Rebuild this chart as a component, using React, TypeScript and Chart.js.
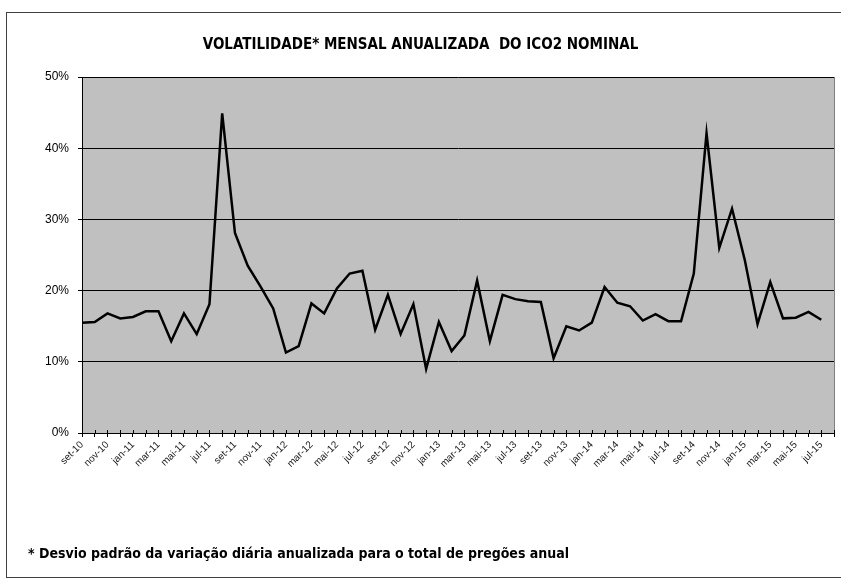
import React, { useEffect, useRef } from "react";
import { Chart, registerables } from "chart.js";

Chart.register(...registerables);

const TITLE = "VOLATILIDADE* MENSAL ANUALIZADA  DO ICO2 NOMINAL";
const FOOTNOTE = "* Desvio padrão da variação diária anualizada para o total de pregões anual";

const months = [
  "set-10", "out-10", "nov-10", "dez-10",
  "jan-11", "fev-11", "mar-11", "abr-11", "mai-11", "jun-11", "jul-11", "ago-11", "set-11", "out-11", "nov-11", "dez-11",
  "jan-12", "fev-12", "mar-12", "abr-12", "mai-12", "jun-12", "jul-12", "ago-12", "set-12", "out-12", "nov-12", "dez-12",
  "jan-13", "fev-13", "mar-13", "abr-13", "mai-13", "jun-13", "jul-13", "ago-13", "set-13", "out-13", "nov-13", "dez-13",
  "jan-14", "fev-14", "mar-14", "abr-14", "mai-14", "jun-14", "jul-14", "ago-14", "set-14", "out-14", "nov-14", "dez-14",
  "jan-15", "fev-15", "mar-15", "abr-15", "mai-15", "jun-15", "jul-15", "ago-15",
];

const volatility = [
  15.5, 15.6, 16.8, 16.1,
  16.3, 17.1, 17.1, 12.9, 16.8, 13.9, 18.1, 44.9, 28.1, 23.5, 20.6, 17.5,
  11.3, 12.2, 18.2, 16.8, 20.3, 22.4, 22.8, 14.5, 19.4, 13.9, 18.1, 9.0,
  15.6, 11.5, 13.7, 21.4, 12.9, 19.4, 18.8, 18.5, 18.4, 10.5, 15.0, 14.4,
  15.5, 20.5, 18.3, 17.8, 15.8, 16.7, 15.7, 15.7, 22.4, 42.1, 26.0, 31.5,
  24.3, 15.3, 21.2, 16.1, 16.2, 17.0, 15.9, null,
];

const yTicks = [0, 10, 20, 30, 40, 50];

const AXIS_FONT = "'Liberation Sans', Arial, sans-serif";
const NARROW_FONT = "'Liberation Sans Narrow', 'DejaVu Sans Condensed', 'Liberation Sans', Arial, sans-serif";

const plotBg = {
  id: "plotBg",
  beforeDraw(chart: any) {
    const { ctx, chartArea } = chart;
    ctx.save();
    ctx.fillStyle = "#c0c0c0";
    ctx.fillRect(chartArea.left, chartArea.top, chartArea.right - chartArea.left, chartArea.bottom - chartArea.top);
    ctx.restore();
  },
  afterDraw(chart: any) {
    const { ctx, chartArea } = chart;
    const xs = chart.scales.x;
    ctx.save();
    ctx.strokeStyle = "#808080";
    ctx.lineWidth = 1;
    ctx.beginPath();
    ctx.moveTo(Math.round(chartArea.right) + 0.5, chartArea.top);
    ctx.lineTo(Math.round(chartArea.right) + 0.5, chartArea.bottom);
    ctx.stroke();
    ctx.strokeStyle = "#000";
    ctx.beginPath();
    for (let i = 0; i < months.length; i++) {
      const x = Math.round(xs.getPixelForValue(i)) + 0.5;
      ctx.moveTo(x, chartArea.bottom - 3);
      ctx.lineTo(x, chartArea.bottom);
    }
    ctx.stroke();
    ctx.restore();
  },
};

export default function App() {
  const canvasRef = useRef<HTMLCanvasElement | null>(null);

  useEffect(() => {
    if (!canvasRef.current) return;
    const chart = new Chart(canvasRef.current, {
      type: "line",
      data: {
        labels: months,
        datasets: [
          {
            label: "Volatilidade",
            data: volatility,
            borderColor: "#000000",
            borderWidth: 2.5,
            pointRadius: 0,
            tension: 0,
            fill: false,
          },
        ],
      },
      plugins: [plotBg],
      options: {
        responsive: false,
        animation: false,
        devicePixelRatio: 1,
        layout: { padding: { left: 0, top: 77, right: 7, bottom: 86 } },
        plugins: {
          legend: { display: false },
          title: { display: false },
          tooltip: { enabled: false },
        },
        scales: {
          x: {
            type: "category",
            offset: false,
            grid: { drawOnChartArea: false, drawTicks: true, tickLength: 4, color: "#000" },
            border: { color: "#000", width: 1 },
            ticks: {
              autoSkip: false,
              minRotation: 45,
              maxRotation: 45,
              padding: 2,
              color: "#222",
              font: { family: AXIS_FONT, size: 10 },
              callback: (_v: any, i: number) => (i % 2 === 0 ? months[i] : ""),
            },
            afterFit: (s: any) => {
              s.height = 60;
              s.paddingLeft = 0;
              s.paddingRight = 0;
            },
          },
          y: {
            min: 0,
            max: 50,
            afterBuildTicks: (s: any) => {
              s.ticks = yTicks.map((v) => ({ value: v }));
            },
            grid: { color: "#000", lineWidth: 1, tickLength: 4 },
            border: { color: "#000", width: 1 },
            ticks: {
              padding: 9,
              color: "#000",
              font: { family: AXIS_FONT, size: 12 },
              callback: (v: any) => v + "%",
            },
            afterFit: (s: any) => {
              s.width = 82;
            },
          },
        },
      },
    });
    return () => chart.destroy();
  }, []);

  return (
    <div style={{ position: "absolute", left: 0, top: 0, width: 841, height: 579, background: "#fff", overflow: "hidden" }}>
      <div
        style={{
          position: "absolute",
          left: 6,
          top: 12,
          width: 845,
          height: 566,
          border: "1px solid #404040",
          boxSizing: "border-box",
        }}
      />
      <canvas ref={canvasRef} width={841} height={579} style={{ position: "absolute", left: 0, top: 0 }} />
      <div
        style={{
          position: "absolute",
          left: 0,
          width: 841,
          top: 35,
          textAlign: "center",
          fontFamily: NARROW_FONT,
          fontWeight: "bold",
          fontSize: 15,
          whiteSpace: "pre",
          color: "#000",
        }}
      >
        {TITLE}
      </div>
      <div
        style={{
          position: "absolute",
          left: 28,
          top: 545,
          fontFamily: NARROW_FONT,
          fontWeight: "bold",
          fontSize: 14,
          whiteSpace: "pre",
          color: "#000",
        }}
      >
        {FOOTNOTE}
      </div>
    </div>
  );
}
